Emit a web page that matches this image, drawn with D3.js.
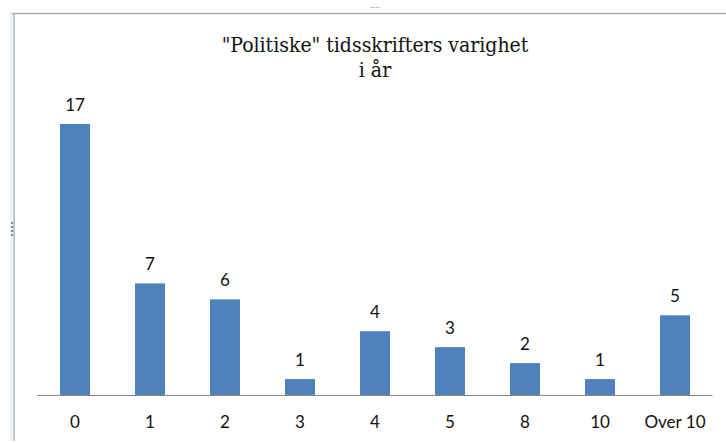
<!DOCTYPE html>
<html>
<head>
<meta charset="utf-8">
<script src="https://cdn.jsdelivr.net/npm/d3@7"></script>
<style>
  body { margin: 0; background: #fff; }
  svg { display: block; }
</style>
</head>
<body>
<svg id="chart"></svg>
<script>
var w = 726, h = 443;

var categories = ["0", "1", "2", "3", "4", "5", "8", "10", "Over 10"];
var counts = [17, 7, 6, 1, 4, 3, 2, 1, 5];
var titleLines = ["\"Politiske\" tidsskrifters varighet", "i år"];

var svg = d3.select("#chart").attr("width", w).attr("height", h);

// frame of the embedded chart object
svg.append("line").attr("x1", 10).attr("y1", 13.5).attr("x2", w).attr("y2", 13.5)
   .attr("stroke", "#a9b4bd").attr("stroke-width", 1.5);
svg.append("line").attr("x1", 14).attr("y1", 13).attr("x2", 14).attr("y2", 441)
   .attr("stroke", "#a9b4bd").attr("stroke-width", 1.5);
svg.append("line").attr("x1", 11.5).attr("y1", 13).attr("x2", 11.5).attr("y2", 441)
   .attr("stroke", "#e3f1f4").attr("stroke-width", 2);
svg.append("text").attr("x", 375).attr("y", 8).attr("text-anchor", "middle")
   .attr("font-family", "DejaVu Sans").attr("font-size", 8).attr("fill", "#666").text("....");
for (var i = 0; i < 4; i++) {
  svg.append("rect").attr("x", 11).attr("y", 222 + i * 4).attr("width", 2).attr("height", 2).attr("fill", "#7a8a96");
}

var x = d3.scaleBand().domain(categories).range([37.5, 712.5]).paddingInner(0.6).paddingOuter(0.3);
var y = d3.scaleLinear().domain([0, 17]).range([395, 124]);

// title, serif like the original
svg.selectAll("text.title").data(titleLines).enter().append("text")
   .attr("class", "title")
   .attr("x", 375)
   .attr("y", function(d, i) { return 52 + i * 25; })
   .attr("text-anchor", "middle")
   .style("font-family", "'DejaVu Serif Condensed', 'DejaVu Serif', serif")
   .style("font-stretch", "condensed")
   .style("font-size", "21px")
   .attr("fill", "#111")
   .text(function(d) { return d; });

svg.selectAll("rect.bar").data(counts).enter().append("rect")
   .attr("class", "bar")
   .attr("x", function(d, i) { return x(categories[i]); })
   .attr("y", function(d) { return y(d); })
   .attr("width", x.bandwidth())
   .attr("height", function(d) { return y(0) - y(d); })
   .attr("fill", "#4f81bd");

svg.selectAll("text.val").data(counts).enter().append("text")
   .attr("class", "val")
   .attr("x", function(d, i) { return x(categories[i]) + x.bandwidth() / 2; })
   .attr("y", function(d) { return y(d) - 13; })
   .attr("text-anchor", "middle")
   .attr("font-family", "Lato, sans-serif")
   .attr("font-size", 17)
   .attr("fill", "#111")
   .text(function(d) { return d; });

var axis = svg.append("g").attr("transform", "translate(0,395)")
   .call(d3.axisBottom(x).tickSize(0).tickPadding(21));
axis.select(".domain").attr("stroke", "#868686").attr("stroke-width", 1).attr("d", "M37.5,0.5H712.5");
axis.selectAll("text")
   .attr("font-family", "Lato, sans-serif")
   .attr("font-size", 17)
   .attr("fill", "#111");
</script>
</body>
</html>
